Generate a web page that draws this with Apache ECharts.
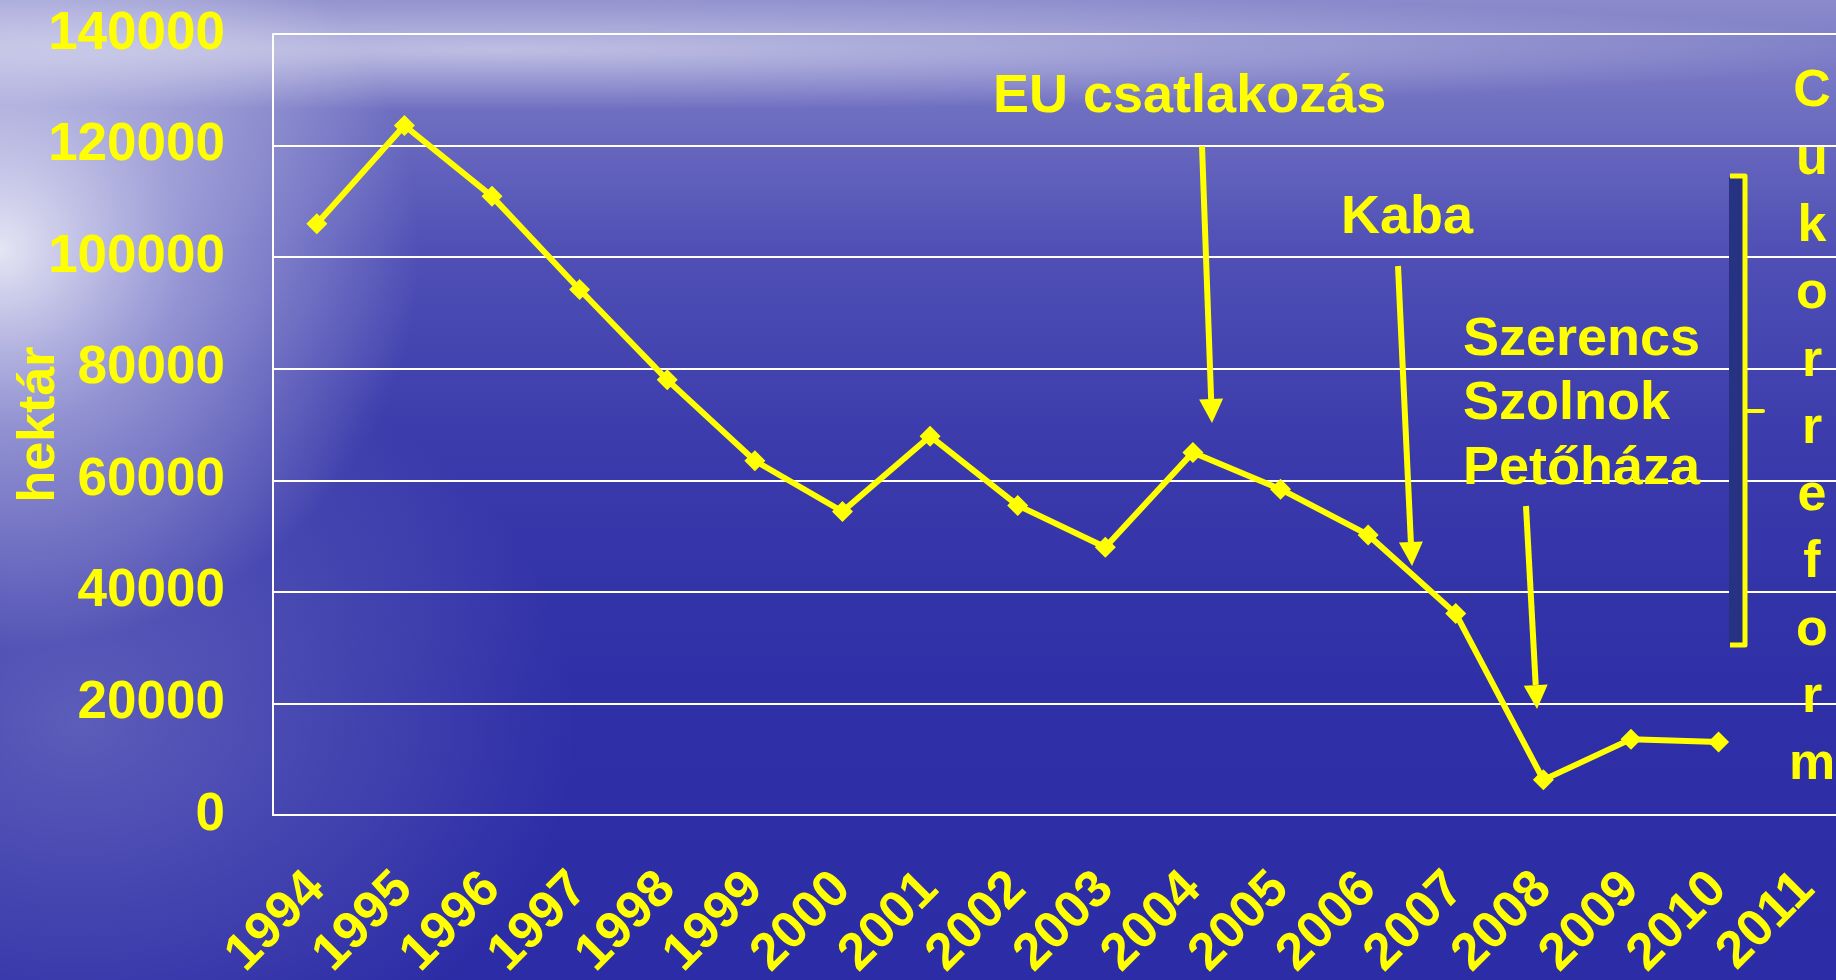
<!DOCTYPE html>
<html>
<head>
<meta charset="utf-8">
<title>Cukorrépa vetésterület</title>
<script src="https://cdn.jsdelivr.net/npm/echarts@6/dist/echarts.min.js"></script>
<style>
  html, body { margin: 0; padding: 0; }
  #main { width: 1836px; height: 980px; }
</style>
</head>
<body>
<div id="main"></div>
<script>
// évek és vetésterület (hektár)
const years = ['1994', '1995', '1996', '1997', '1998', '1999', '2000', '2001', '2002',
  '2003', '2004', '2005', '2006', '2007', '2008', '2009', '2010', '2011'];
const hektar = [106000, 123600, 110900, 94200, 78000, 63500, 54400, 67900, 55500,
  48000, 65000, 58400, 50200, 36100, 6300, 13600, 13100, null];
const yMin = 0;
const yMax = 140000;
const yStep = 20000;

const axisName = 'hektár';
const euText = 'EU csatlakozás';
const kabaText = 'Kaba';
const closedPlants = ['Szerencs', 'Szolnok', 'Petőháza'];
const sideText = 'Cukorreform';

const YELLOW = '#ffff00';
const FONT = 'Liberation Sans';
const chart = echarts.init(document.getElementById('main'));

// nyíl: szár + hegy
function arrow (x1, y1, x2, y2) {
  const len = Math.hypot(x2 - x1, y2 - y1);
  const dx = (x2 - x1) / len, dy = (y2 - y1) / len;
  const bx = x2 - dx * 24, by = y2 - dy * 24;
  return [
    { type: 'line', z: 100, silent: true,
      shape: { x1: x1, y1: y1, x2: bx, y2: by },
      style: { stroke: YELLOW, lineWidth: 6 } },
    { type: 'polygon', z: 100, silent: true,
      shape: { points: [[x2, y2], [bx - dy * 12, by + dx * 12], [bx + dy * 12, by - dx * 12]] },
      style: { fill: YELLOW } }
  ];
}

function label (text, x, y) {
  return { type: 'text', z: 100, silent: true, x: x, y: y,
    style: { text: text, fill: YELLOW, font: 'bold 54px "' + FONT + '"',
      textAlign: 'left', textVerticalAlign: 'middle' } };
}

const graphics = [
  // háttér fények
  { type: 'circle', z: -100, silent: true, shape: { cx: 0, cy: 0, r: 1 },
    x: 0, y: 250, scaleX: 420, scaleY: 400,
    style: { fill: { type: 'radial', x: 0.5, y: 0.5, r: 0.5, colorStops: [
      { offset: 0, color: 'rgba(255,255,255,0.85)' },
      { offset: 0.45, color: 'rgba(235,235,250,0.45)' },
      { offset: 1, color: 'rgba(255,255,255,0)' }] } } },
  { type: 'circle', z: -100, silent: true, shape: { cx: 0, cy: 0, r: 1 },
    x: 500, y: 50, scaleX: 1400, scaleY: 60,
    style: { fill: { type: 'radial', x: 0.5, y: 0.5, r: 0.5, colorStops: [
      { offset: 0, color: 'rgba(255,255,255,0.5)' },
      { offset: 1, color: 'rgba(255,255,255,0)' }] } } },
  { type: 'circle', z: -100, silent: true, shape: { cx: 0, cy: 0, r: 1 },
    x: 80, y: 720, scaleX: 500, scaleY: 380,
    style: { fill: { type: 'radial', x: 0.5, y: 0.5, r: 0.5, colorStops: [
      { offset: 0, color: 'rgba(255,255,255,0.22)' },
      { offset: 1, color: 'rgba(255,255,255,0)' }] } } },
  // Cukorreform zárójel
  { type: 'rect', z: 100, silent: true, shape: { x: 1729, y: 177, width: 14, height: 468 },
    style: { fill: '#283282' } },
  { type: 'polyline', z: 100, silent: true,
    shape: { points: [[1730, 176], [1745, 176], [1745, 645], [1730, 645]] },
    style: { stroke: YELLOW, lineWidth: 5, fill: null, lineJoin: 'round' } },
  { type: 'line', z: 100, silent: true, shape: { x1: 1745, y1: 411, x2: 1763, y2: 411 },
    style: { stroke: YELLOW, lineWidth: 4, lineCap: 'round' } },
  label(euText, 993, 97),
  label(kabaText, 1341, 218)
];
closedPlants.forEach((t, i) => graphics.push(label(t, 1463, 340 + i * 64.5)));
sideText.split('').forEach((ch, i) => {
  graphics.push({ type: 'text', z: 100, silent: true, x: 1812, y: 92 + i * 67.3,
    style: { text: ch, fill: YELLOW, font: 'bold 52px "' + FONT + '"',
      textAlign: 'center', textVerticalAlign: 'middle' } });
});
graphics.push(...arrow(1202, 146, 1212, 423));
graphics.push(...arrow(1398, 266, 1412, 566));
graphics.push(...arrow(1526, 506, 1537, 709));

const option = {
  animation: false,
  backgroundColor: {
    type: 'linear', x: 0, y: 0, x2: 0, y2: 1,
    colorStops: [
      { offset: 0, color: '#8a8acc' },
      { offset: 0.08, color: '#7676c4' },
      { offset: 0.25, color: '#5050b6' },
      { offset: 0.45, color: '#3b3bac' },
      { offset: 0.7, color: '#2f2fa7' },
      { offset: 1, color: '#2c2ca6' }
    ]
  },
  grid: { left: 273, top: 34, right: -14, bottom: 165, containLabel: false, outerBoundsMode: 'none' },
  xAxis: {
    type: 'category',
    data: years,
    boundaryGap: true,
    axisLine: { show: true, lineStyle: { color: '#ffffff', width: 2 } },
    axisTick: { show: false },
    axisLabel: {
      interval: 0, rotate: 45, margin: 66,
      color: YELLOW, fontFamily: FONT, fontWeight: 'bold', fontSize: 52
    }
  },
  yAxis: {
    type: 'value',
    min: yMin, max: yMax, interval: yStep,
    name: axisName,
    nameLocation: 'middle',
    nameRotate: 90,
    nameGap: 207,
    nameMoveOverlap: false,
    nameTextStyle: { color: YELLOW, fontFamily: FONT, fontWeight: 'bold', fontSize: 52 },
    axisLine: { show: true, lineStyle: { color: '#ffffff', width: 2 } },
    axisTick: { show: false },
    splitLine: { show: true, lineStyle: { color: '#ffffff', width: 2 } },
    axisLabel: {
      margin: 48,
      formatter: v => String(v),
      color: YELLOW, fontFamily: FONT, fontWeight: 'bold', fontSize: 53
    }
  },
  series: [
    {
      name: axisName,
      type: 'line',
      data: hektar,
      symbol: 'diamond',
      symbolSize: 21,
      z: 5,
      lineStyle: { color: YELLOW, width: 6 },
      itemStyle: { color: YELLOW }
    }
  ],
  graphic: graphics
};

chart.setOption(option);
</script>
</body>
</html>
